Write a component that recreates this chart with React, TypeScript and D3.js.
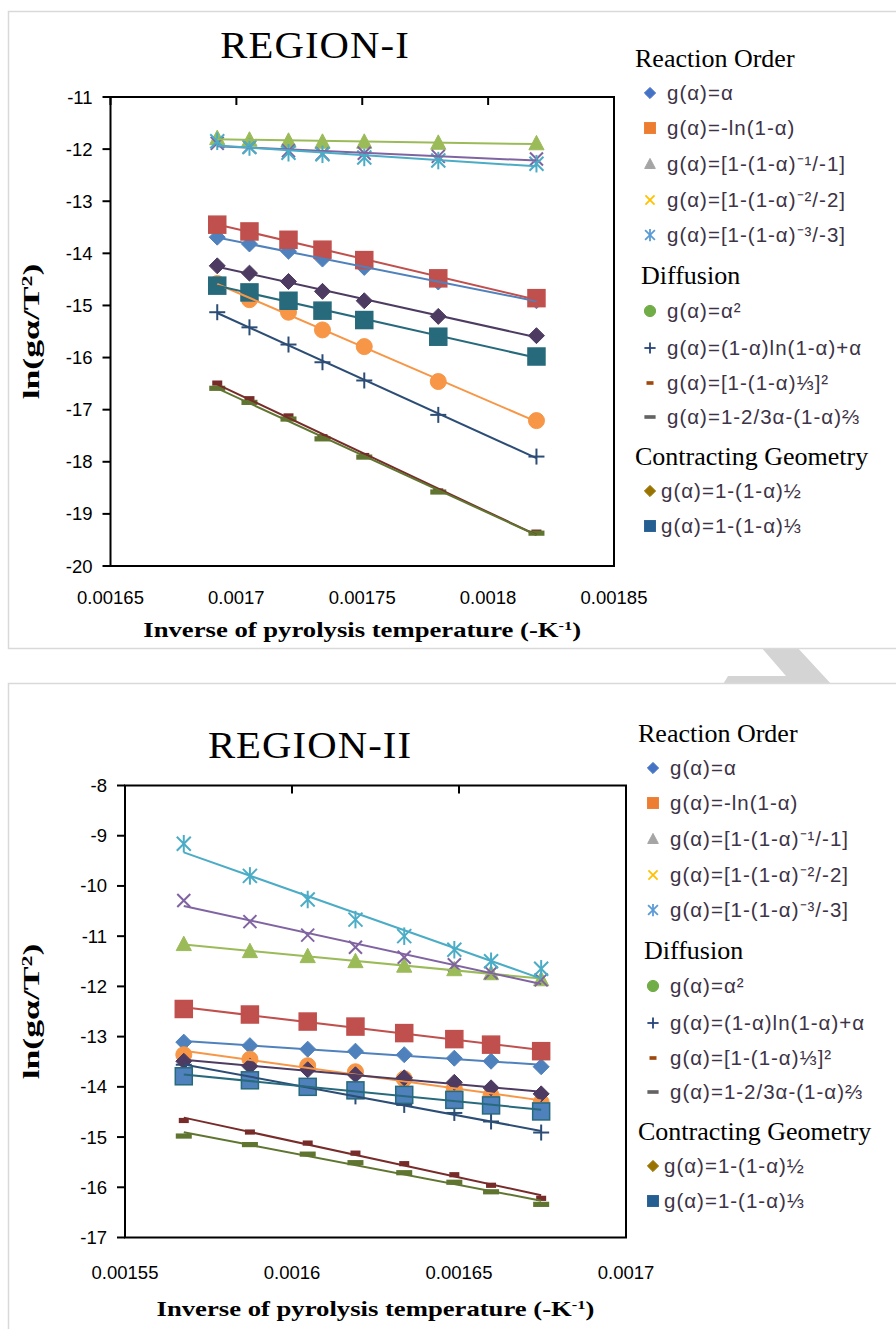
import React from "react";
import * as d3 from "d3";

// ---------- DATA ----------
const xTicksTop = [0.00165, 0.0017, 0.00175, 0.0018, 0.00185];
const xTickLabelsTop = ["0.00165", "0.0017", "0.00175", "0.0018", "0.00185"];
const yTicksTop = [-11, -12, -13, -14, -15, -16, -17, -18, -19, -20];

const xTicksBot = [0.00155, 0.0016, 0.00165, 0.0017];
const xTickLabelsBot = ["0.00155", "0.0016", "0.00165", "0.0017"];
const yTicksBot = [-8, -9, -10, -11, -12, -13, -14, -15, -16, -17];

// Region I: inverse temperature values
const xTop = [0.0016924, 0.0017052, 0.0017207, 0.0017342, 0.0017508, 0.0017802, 0.0018192];
const top_alpha = [-13.69, -13.82, -13.96, -14.11, -14.27, -14.55, -14.91];
const top_ln = [-13.45, -13.58, -13.74, -13.93, -14.13, -14.48, -14.86];
const top_ro1 = [-11.79, -11.82, -11.84, -11.86, -11.86, -11.88, -11.89];
const top_ro2 = [-11.89, -11.96, -12.03, -12.09, -12.08, -12.14, -12.19];
const top_ro3 = [-11.85, -11.96, -12.07, -12.10, -12.16, -12.22, -12.28];
const top_d1 = [-14.58, -14.89, -15.13, -15.47, -15.79, -16.46, -17.21];
const top_d2 = [-15.13, -15.42, -15.75, -16.09, -16.44, -17.10, -17.90];
const top_d3 = [-16.49, -16.79, -17.12, -17.52, -17.88, -18.56, -19.35];
const top_d4 = [-16.59, -16.86, -17.18, -17.56, -17.91, -18.58, -19.37];
const top_cg2 = [-14.24, -14.38, -14.54, -14.73, -14.91, -15.21, -15.58];
const top_cg3 = [-14.62, -14.75, -14.91, -15.10, -15.28, -15.60, -15.98];

// Region II
const xBot = [0.0015676, 0.0015874, 0.0016047, 0.001619, 0.0016336, 0.0016486, 0.0016596, 0.0016746];
const bot_alpha = [-13.11, -13.18, -13.25, -13.29, -13.36, -13.43, -13.49, -13.60];
const bot_ln = [-12.45, -12.56, -12.70, -12.80, -12.93, -13.05, -13.16, -13.29];
const bot_ro1 = [-11.16, -11.30, -11.40, -11.50, -11.59, -11.66, -11.74, -11.86];
const bot_ro2 = [-10.29, -10.71, -10.98, -11.22, -11.42, -11.57, -11.73, -11.87];
const bot_ro3 = [-9.16, -9.80, -10.27, -10.67, -11.00, -11.27, -11.50, -11.65];
const bot_d1 = [-13.36, -13.45, -13.58, -13.70, -13.84, -14.03, -14.17, -14.31];
const bot_d2 = [-13.56, -13.80, -14.02, -14.19, -14.36, -14.52, -14.69, -14.91];
const bot_d3 = [-14.67, -14.90, -15.12, -15.32, -15.53, -15.75, -15.96, -16.22];
const bot_d4 = [-14.98, -15.15, -15.34, -15.51, -15.71, -15.90, -16.09, -16.34];
const bot_cg2 = [-13.49, -13.59, -13.66, -13.76, -13.82, -13.91, -14.02, -14.14];
const bot_cg3 = [-13.79, -13.87, -14.00, -14.07, -14.16, -14.26, -14.37, -14.49];

const seriesLabels = [
  "g(α)=α",
  "g(α)=-ln(1-α)",
  "g(α)=[1-(1-α)⁻¹/-1]",
  "g(α)=[1-(1-α)⁻²/-2]",
  "g(α)=[1-(1-α)⁻³/-3]",
  "g(α)=α²",
  "g(α)=(1-α)ln(1-α)+α",
  "g(α)=[1-(1-α)⅓]²",
  "g(α)=1-2/3α-(1-α)⅔",
  "g(α)=1-(1-α)½",
  "g(α)=1-(1-α)⅓",
];
const groupHeaders = ["Reaction Order", "Diffusion", "Contracting Geometry"];
const seriesShapes = ["diamond", "square", "triangle", "x", "asterisk", "circle", "plus", "dash", "longdash", "diamond", "square"];
const plotColors = ["#4F81BD", "#C0504D", "#9BBB59", "#8064A2", "#4BACC6", "#F79646", "#2C4D75", "#772C2A", "#5F7530", "#4D3B62", "#276A7C"];
const legendColors = ["#4472C4", "#ED7D31", "#A5A5A5", "#FFC000", "#5B9BD5", "#70AD47", "#264478", "#9E480E", "#636363", "#997300", "#255E91"];

const topSeries = [top_alpha, top_ln, top_ro1, top_ro2, top_ro3, top_d1, top_d2, top_d3, top_d4, top_cg2, top_cg3];
const botSeries = [bot_alpha, bot_ln, bot_ro1, bot_ro2, bot_ro3, bot_d1, bot_d2, bot_d3, bot_d4, bot_cg2, bot_cg3];

// ---------- HELPERS ----------
function linreg(xs: number[], ys: number[]) {
  const mx = d3.mean(xs) as number;
  const my = d3.mean(ys) as number;
  const sxy = d3.sum(xs.map((x, i) => (x - mx) * (ys[i] - my)));
  const sxx = d3.sum(xs.map((x) => (x - mx) * (x - mx)));
  const b = sxy / sxx;
  return { a: my - b * mx, b };
}

function Marker({ shape, x, y, fill, stroke, k = 1 }: any) {
  const sw = 2 * Math.min(1, k + 0.2);
  switch (shape) {
    case "diamond": {
      const s = 8 * k;
      return <path d={`M${x},${y - s}L${x + s},${y}L${x},${y + s}L${x - s},${y}Z`} fill={fill} stroke={stroke} strokeWidth={1} />;
    }
    case "square": {
      const s = 8.5 * k;
      return <rect x={x - s} y={y - s} width={2 * s} height={2 * s} fill={fill} stroke={stroke} strokeWidth={k < 1 ? 0 : 1.5} />;
    }
    case "triangle": {
      const s = 8 * k;
      return <path d={`M${x},${y - s}L${x + s * 0.95},${y + s * 0.8}L${x - s * 0.95},${y + s * 0.8}Z`} fill={fill} stroke={stroke} strokeWidth={1} />;
    }
    case "x": {
      const s = 6.5 * k;
      return (
        <g stroke={fill} strokeWidth={sw}>
          <line x1={x - s} y1={y - s} x2={x + s} y2={y + s} />
          <line x1={x - s} y1={y + s} x2={x + s} y2={y - s} />
        </g>
      );
    }
    case "asterisk": {
      const s = 7 * k;
      return (
        <g stroke={fill} strokeWidth={sw}>
          <line x1={x - s} y1={y - s} x2={x + s} y2={y + s} />
          <line x1={x - s} y1={y + s} x2={x + s} y2={y - s} />
          <line x1={x} y1={y - s * 1.25} x2={x} y2={y + s * 1.25} />
        </g>
      );
    }
    case "circle":
      return <circle cx={x} cy={y} r={8 * k} fill={fill} stroke={stroke} strokeWidth={1} />;
    case "plus": {
      const s = 8 * k;
      return (
        <g stroke={fill} strokeWidth={sw}>
          <line x1={x - s} y1={y} x2={x + s} y2={y} />
          <line x1={x} y1={y - s} x2={x} y2={y + s} />
        </g>
      );
    }
    case "dash": {
      const w = 5 * k, h = 2.6 * Math.max(k, 0.7);
      return <rect x={x - w} y={y - h} width={2 * w} height={2 * h} fill={fill} />;
    }
    case "longdash": {
      const w = 8 * k, h = 2.6 * Math.max(k, 0.7);
      return <rect x={x - w} y={y - h} width={2 * w} height={2 * h} fill={fill} />;
    }
  }
  return null;
}

const serif = "'Liberation Serif', 'Times New Roman', serif";
const sans = "'Liberation Sans', Arial, sans-serif";

function Chart({ title, box, xDomain, yDomain, xTicks, xTickLabels, yTicks, xs, series, markerFills, markerStrokes, titleX, titleY, xLabelY, xTitleY }: any) {
  const xScale = d3.scaleLinear().domain(xDomain).range([box.left, box.right]);
  const yScale = d3.scaleLinear().domain(yDomain).range([box.bottom, box.top]);
  const cx = (box.left + box.right) / 2;
  const cy = (box.top + box.bottom) / 2;
  const line = d3.line<[number, number]>().x((d) => xScale(d[0])).y((d) => yScale(d[1]));
  return (
    <g>
      <text transform={`translate(${titleX},${titleY}) scale(1.1,1)`} fontFamily={serif} fontSize={37} letterSpacing={1} textAnchor="middle" fill="#000">{title}</text>
      {/* markers */}
      {series.map((ys: number[], si: number) => (
        <g key={"m" + si}>
          {ys.map((v: number, i: number) => (
            <Marker key={i} shape={seriesShapes[si]} x={xScale(xs[i])} y={yScale(v)} fill={markerFills[si]} stroke={markerStrokes[si]} />
          ))}
        </g>
      ))}
      {/* linear trendlines */}
      {series.map((ys: number[], si: number) => {
        const { a, b } = linreg(xs, ys);
        const x0 = xs[0], x1 = xs[xs.length - 1];
        return <path key={"t" + si} d={line([[x0, a + b * x0], [x1, a + b * x1]]) as string} stroke={plotColors[si]} strokeWidth={2} fill="none" />;
      })}
      {/* plot box */}
      <rect x={box.left} y={box.top} width={box.right - box.left} height={box.bottom - box.top} fill="none" stroke="#000" strokeWidth={2} />
      {/* x ticks on top axis pointing down */}
      {xTicks.map((t: number, i: number) => (
        <line key={"xt" + i} x1={xScale(t)} x2={xScale(t)} y1={box.top} y2={box.top + 8} stroke="#000" strokeWidth={2} />
      ))}
      {xTicks.map((t: number, i: number) => (
        <text key={"xl" + i} x={xScale(t)} y={xLabelY} fontFamily={sans} fontSize={18.5} textAnchor="middle" fill="#000">{xTickLabels[i]}</text>
      ))}
      {yTicks.map((t: number, i: number) => (
        <g key={"yt" + i}>
          <line x1={box.left - 8} x2={box.left} y1={yScale(t)} y2={yScale(t)} stroke="#000" strokeWidth={2} />
          <text x={box.left - 18} y={yScale(t) + 6.5} fontFamily={sans} fontSize={18.5} textAnchor="end" fill="#000">{t}</text>
        </g>
      ))}
      {/* axis titles */}
      <text transform={`translate(${cx},${xTitleY}) scale(1.27,1)`} fontFamily={serif} fontWeight="bold" fontSize={21} textAnchor="middle" fill="#000">
        Inverse of pyrolysis temperature (-K<tspan dy={-7} fontSize={13}>-1</tspan><tspan dy={7}>)</tspan>
      </text>
      <text transform={`translate(39,${cy}) rotate(-90) scale(1.55,1)`} fontFamily={serif} fontWeight="bold" fontSize={23} textAnchor="middle" fill="#000">
        ln(gα/T<tspan dy={-7} fontSize={14}>2</tspan><tspan dy={7}>)</tspan>
      </text>
    </g>
  );
}

const legendRows = [
  { type: "h", idx: 0, dy: 0 },
  { type: "s", idx: 0, dy: 35 },
  { type: "s", idx: 1, dy: 70 },
  { type: "s", idx: 2, dy: 106 },
  { type: "s", idx: 3, dy: 142 },
  { type: "s", idx: 4, dy: 177 },
  { type: "h", idx: 1, dy: 217 },
  { type: "s", idx: 5, dy: 253 },
  { type: "s", idx: 6, dy: 290 },
  { type: "s", idx: 7, dy: 325 },
  { type: "s", idx: 8, dy: 359 },
  { type: "h", idx: 2, dy: 398 },
  { type: "s", idx: 9, dy: 433 },
  { type: "s", idx: 10, dy: 468 },
];

function Legend({ y0, xShift }: any) {
  return (
    <g>
      {legendRows.map((r, i) => {
        const y = y0 + r.dy;
        if (r.type === "h") {
          return (
            <text key={i} x={(r.idx === 1 ? 641 : 635) + xShift} y={y + 9} fontFamily={serif} fontSize={26} fill="#000">{groupHeaders[r.idx]}</text>
          );
        }
        const cg = r.idx >= 9;
        return (
          <g key={i}>
            <Marker shape={seriesShapes[r.idx]} x={650 + xShift} y={y} fill={legendColors[r.idx]} stroke={legendColors[r.idx]} k={0.7} />
            <text x={(cg ? 661 : 667) + xShift} y={y + 7} fontFamily={sans} fontSize={20.5} letterSpacing={1} fill="#3d3346">{seriesLabels[r.idx]}</text>
          </g>
        );
      })}
    </g>
  );
}

export default function App() {
  const topBox = { left: 110.5, right: 614, top: 97, bottom: 566 };
  const botBox = { left: 125, right: 626, top: 785.5, bottom: 1237.5 };
  const topFills = plotColors;
  const botFills = plotColors.map((c, i) => (i === 10 ? "#4F81BD" : c));
  return (
    <svg width={896} height={1329} style={{ position: "absolute", left: 0, top: 0, background: "#fff" }}>
      <rect x={0} y={0} width={896} height={1329} fill="#fff" />
      {/* watermark tip between frames */}
      <path d="M760,646 L796,646 L833,686 L722,686 L728,676 L786,676 Z" fill="#d4d4d4" />
      <rect x={8.5} y={11.5} width={900} height={637} fill="#fff" stroke="#d9d9d9" strokeWidth={1.5} />
      <rect x={8.5} y={683.5} width={900} height={700} fill="#fff" stroke="#d9d9d9" strokeWidth={1.5} />
      <Chart
        title="REGION-I"
        box={topBox}
        xDomain={[0.00165, 0.00185]}
        yDomain={[-20, -11]}
        xTicks={xTicksTop}
        xTickLabels={xTickLabelsTop}
        yTicks={yTicksTop}
        xs={xTop}
        series={topSeries}
        markerFills={topFills}
        markerStrokes={topFills}
        titleX={315}
        titleY={58}
        xLabelY={604}
        xTitleY={637}
      />
      <Legend y0={58} xShift={0} />
      <Chart
        title="REGION-II"
        box={botBox}
        xDomain={[0.00155, 0.0017]}
        yDomain={[-17, -8]}
        xTicks={xTicksBot}
        xTickLabels={xTickLabelsBot}
        yTicks={yTicksBot}
        xs={xBot}
        series={botSeries}
        markerFills={botFills}
        markerStrokes={plotColors}
        titleX={310}
        titleY={758}
        xLabelY={1279}
        xTitleY={1316}
      />
      <Legend y0={733} xShift={3} />
    </svg>
  );
}
